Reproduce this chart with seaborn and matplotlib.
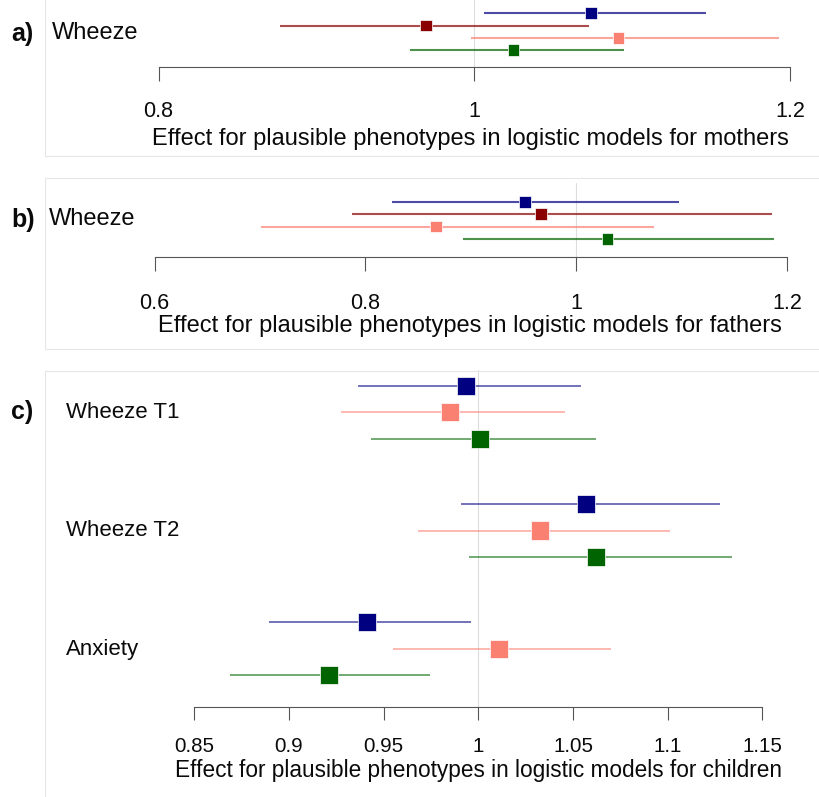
import matplotlib
matplotlib.use("Agg")
import matplotlib.pyplot as plt
from matplotlib.patches import Rectangle
import numpy as np
import pandas as pd
import seaborn as sns

sns.set_theme(style="white")
plt.rcParams["font.family"] = ["Liberation Sans", "DejaVu Sans"]
plt.rcParams["text.color"] = "#0a0a0a"

# ---------------- data ----------------
series_ab = ["navy", "darkred", "salmon", "darkgreen"]
mothers_est = [1.074, 0.9695, 1.0914, 1.0248]
mothers_lo = [1.006, 0.877, 0.998, 0.959]
mothers_hi = [1.147, 1.0724, 1.193, 1.0946]
mothers_ticks = [0.8, 1.0, 1.2]
mothers_ticklabels = ["0.8", "1", "1.2"]

fathers_est = [0.9515, 0.967, 0.867, 1.0297]
fathers_lo = [0.825, 0.787, 0.701, 0.893]
fathers_hi = [1.098, 1.186, 1.074, 1.188]
fathers_ticks = [0.6, 0.8, 1.0, 1.2]
fathers_ticklabels = ["0.6", "0.8", "1", "1.2"]

series_c = ["navy", "salmon", "darkgreen"]
child_outcomes = ["Wheeze T1", "Wheeze T2", "Anxiety"]
child_est = [[0.9936, 0.9848, 1.0011], [1.057, 1.0325, 1.062], [0.9412, 1.0107, 0.9209]]
child_lo = [[0.9365, 0.9277, 0.9432], [0.991, 0.968, 0.995], [0.8894, 0.955, 0.8686]]
child_hi = [[1.054, 1.0455, 1.0623], [1.1276, 1.101, 1.1337], [0.996, 1.070, 0.9746]]
child_ticks = [0.85, 0.9, 0.95, 1.0, 1.05, 1.1, 1.15]
child_ticklabels = ["0.85", "0.9", "0.95", "1", "1.05", "1.1", "1.15"]

colors = {"navy": "#000080", "darkred": "#8B0000", "salmon": "#FA8072", "darkgreen": "#006400"}

W, H = 819, 797
fig = plt.figure(figsize=(W / 100, H / 100), dpi=100)


def add_ax(x0, x1, y0, y1):
    """pixel rect (top-left origin) -> axes"""
    return fig.add_axes([x0 / W, 1 - y1 / H, (x1 - x0) / W, (y1 - y0) / H])


def style_axis(ax, ticks, labels, ticklen, pad, fs):
    for s in ["top", "right", "left"]:
        ax.spines[s].set_visible(False)
    ax.spines["bottom"].set_color("#555555")
    ax.spines["bottom"].set_linewidth(0.8)
    ax.set_xlim(ticks[0], ticks[-1])
    ax.set_xticks(ticks)
    ax.set_xticklabels(labels)
    ax.tick_params(axis="x", direction="out", length=ticklen, width=0.8, color="#555555",
                   pad=pad, labelsize=fs, labelcolor="#0a0a0a", bottom=True)
    ax.set_yticks([])
    ax.set_ylabel("")
    ax.set_xlabel("")
    ax.patch.set_alpha(0)
    ax.axvline(1.0, color="#dddddd", lw=0.8, zorder=0)


def draw_rows(ax, df, ms, lw):
    for _, r in df.iterrows():
        ax.hlines(r["y"], r["lo"], r["hi"], colors=colors[r["series"]], lw=lw, alpha=0.7,
                  zorder=2, clip_on=False)
    sns.scatterplot(data=df, x="est", y="y", hue="series", palette=colors, marker="s",
                    s=ms, linewidth=0.5, edgecolor="white", ax=ax, legend=False, zorder=3,
                    clip_on=False)


# borders of panels
for (x0, y0, x1, y1) in [(44.5, -5, 830, 155.5), (44.5, 178, 830, 349), (44.5, 370.5, 830, 810)]:
    fig.add_artist(Rectangle((x0 / W, 1 - y1 / H), (x1 - x0) / W, (y1 - y0) / H,
                             transform=fig.transFigure, fill=False, edgecolor="#e6e6e6", lw=0.8))

LAB = 17
# ---------------- panel a ----------------
axa = add_ax(158.5, 790, 0, 66.7)
dfa = pd.DataFrame({"series": series_ab, "est": mothers_est, "lo": mothers_lo, "hi": mothers_hi})
dfa["y"] = 13.3 + 12.2 * np.arange(len(dfa))
axa.set_ylim(66.7, 0)
draw_rows(axa, dfa, 72, 1.5)
style_axis(axa, mothers_ticks, mothers_ticklabels, 10, 15, 15.5)
fig.text(11 / W, 1 - 34 / H, "a)", fontsize=18, fontweight="bold", va="center", ha="left")
fig.text(52 / W, 1 - 33 / H, "Wheeze", fontsize=LAB, va="center", ha="left")
fig.text(470 / W, 1 - 139 / H, "Effect for plausible phenotypes in logistic models for mothers",
         fontsize=LAB, va="center", ha="center")

# ---------------- panel b ----------------
axb = add_ax(154.5, 787, 183, 257)
dfb = pd.DataFrame({"series": series_ab, "est": fathers_est, "lo": fathers_lo, "hi": fathers_hi})
dfb["y"] = 201.7 + 12.43 * np.arange(len(dfb))
axb.set_ylim(257, 183)
draw_rows(axb, dfb, 72, 1.5)
style_axis(axb, fathers_ticks, fathers_ticklabels, 10, 16, 15.5)
fig.text(11 / W, 1 - 220 / H, "b)", fontsize=18, fontweight="bold", va="center", ha="left")
fig.text(49 / W, 1 - 219 / H, "Wheeze", fontsize=LAB, va="center", ha="left")
fig.text(470 / W, 1 - 326 / H, "Effect for plausible phenotypes in logistic models for fathers",
         fontsize=LAB, va="center", ha="center")

# ---------------- panel c ----------------
axc = add_ax(194.3, 762.4, 370.5, 707)
rows = []
for g, outcome in enumerate(child_outcomes):
    for j, s in enumerate(series_c):
        rows.append({"outcome": outcome, "series": s, "est": child_est[g][j],
                     "lo": child_lo[g][j], "hi": child_hi[g][j],
                     "y": 385.7 + 118.3 * g + 26.5 * j})
dfc = pd.DataFrame(rows)
axc.set_ylim(707, 370.5)
draw_rows(axc, dfc, 170, 1.1)
style_axis(axc, child_ticks, child_ticklabels, 9.5, 12, 14.8)
fig.text(11 / W, 1 - 412 / H, "c)", fontsize=18, fontweight="bold", va="center", ha="left")
for g, outcome in enumerate(child_outcomes):
    fig.text(66 / W, 1 - (412.5 + 118.3 * g) / H, outcome, fontsize=16, va="center", ha="left")
fig.text(478 / W, 1 - 771 / H, "Effect for plausible phenotypes in logistic models for children",
         fontsize=16.3, va="center", ha="center")

fig.savefig("out.png", dpi=100)
